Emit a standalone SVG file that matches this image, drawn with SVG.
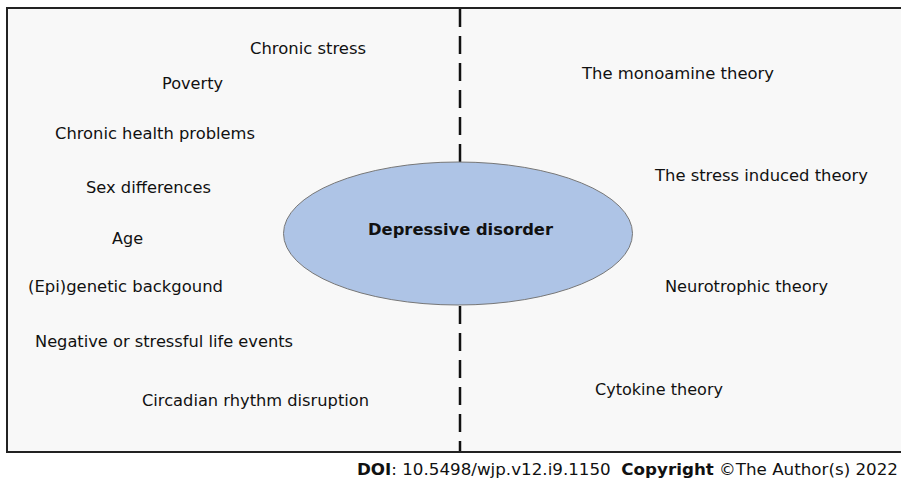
<svg xmlns="http://www.w3.org/2000/svg" width="901" height="484" viewBox="0 0 901 484">
<style>
.t{font-family:"DejaVu Sans","Liberation Sans",sans-serif;font-size:16px;fill:#111}
.b{font-weight:bold}
</style>
<rect x="0" y="0" width="901" height="484" fill="#ffffff"/>
<g id="frame">
<rect x="7" y="8" width="900" height="444" fill="#f8f8f8" stroke="#222" stroke-width="2"/>
</g>
<g id="connectors">
<line x1="460" y1="9" x2="460" y2="451" stroke="#111" stroke-width="2.5" stroke-dasharray="18,9"/>
</g>
<g id="center">
<ellipse cx="458" cy="233.5" rx="174.5" ry="71.5" fill="#aec4e6" stroke="#777" stroke-width="1"/>
<text class="t b" x="368" y="235" textLength="185" lengthAdjust="spacingAndGlyphs">Depressive disorder</text>
</g>
<g id="causes">
<text class="t" x="250" y="54" textLength="116" lengthAdjust="spacingAndGlyphs">Chronic stress</text>
<text class="t" x="162" y="89" textLength="61" lengthAdjust="spacingAndGlyphs">Poverty</text>
<text class="t" x="55" y="139" textLength="200" lengthAdjust="spacingAndGlyphs">Chronic health problems</text>
<text class="t" x="86" y="193" textLength="125" lengthAdjust="spacingAndGlyphs">Sex differences</text>
<text class="t" x="112" y="244" textLength="31" lengthAdjust="spacingAndGlyphs">Age</text>
<text class="t" x="28" y="292" textLength="195" lengthAdjust="spacingAndGlyphs">(Epi)genetic backgound</text>
<text class="t" x="35" y="347" textLength="258" lengthAdjust="spacingAndGlyphs">Negative or stressful life events</text>
<text class="t" x="142" y="406" textLength="227" lengthAdjust="spacingAndGlyphs">Circadian rhythm disruption</text>
</g>
<g id="theories">
<text class="t" x="582" y="79" textLength="192" lengthAdjust="spacingAndGlyphs">The monoamine theory</text>
<text class="t" x="655" y="181" textLength="213" lengthAdjust="spacingAndGlyphs">The stress induced theory</text>
<text class="t" x="665" y="292" textLength="163" lengthAdjust="spacingAndGlyphs">Neurotrophic theory</text>
<text class="t" x="595" y="395" textLength="128" lengthAdjust="spacingAndGlyphs">Cytokine theory</text>
</g>
<g id="footer">
<text class="t" x="357" y="475" textLength="541" lengthAdjust="spacingAndGlyphs" xml:space="preserve"><tspan class="b">DOI</tspan>: 10.5498/wjp.v12.i9.1150  <tspan class="b">Copyright</tspan> ©The Author(s) 2022</text>
</g>
</svg>
